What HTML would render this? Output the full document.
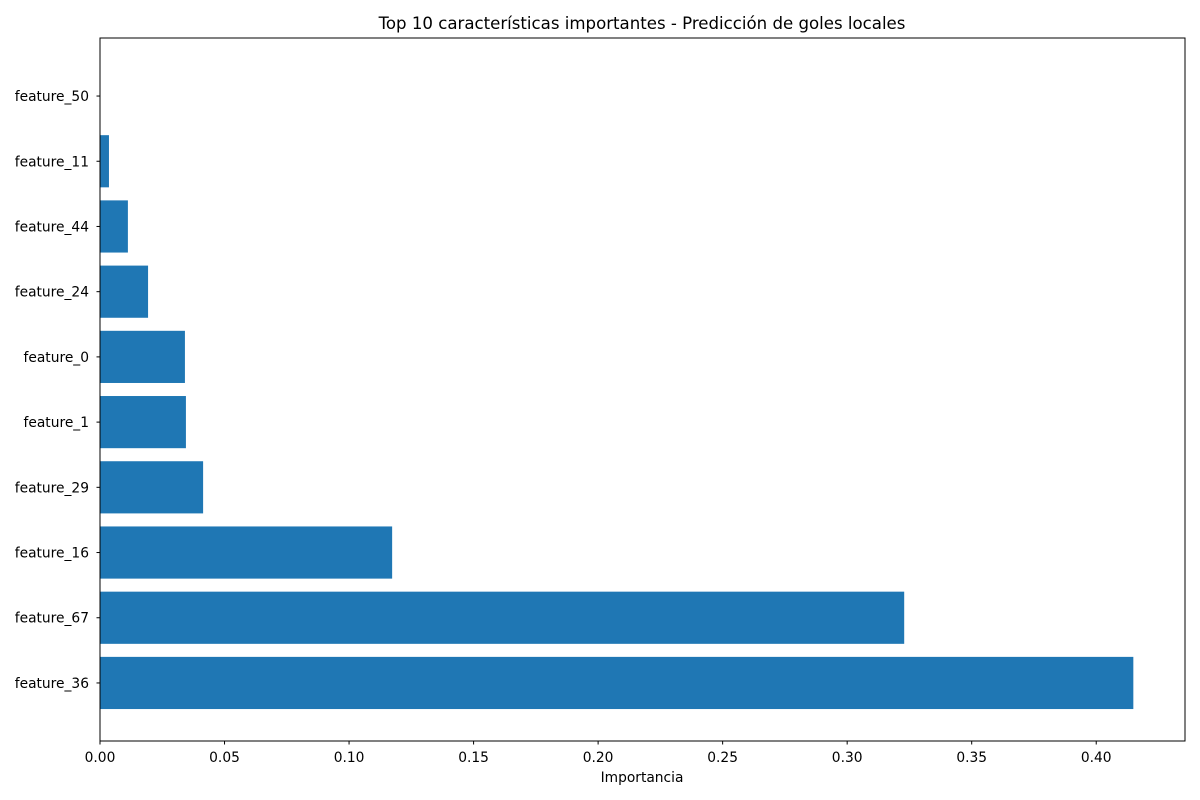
<!DOCTYPE html>
<html><head><meta charset="utf-8"><style>
html,body{margin:0;padding:0;background:#fff;}
svg{display:block;font-family:"DejaVu Sans","Liberation Sans",sans-serif;}
</style></head><body>
<svg id="chart" width="1200" height="800">
<rect width="1200" height="800" fill="#fff"/>
<text x="642" y="29" font-size="16.6" text-anchor="middle">Top 10 características importantes - Predicción de goles locales</text>
<g id="bars"></g>
<g id="xticks"></g>
<g id="yticks"></g>
<rect x="100" y="38" width="1085" height="703" fill="none" stroke="#000" stroke-width="1"/>
<text x="642" y="782" font-size="13.8" text-anchor="middle">Importancia</text>
</svg>
<script>
const categories = ["feature_36","feature_67","feature_16","feature_29","feature_1","feature_0","feature_24","feature_44","feature_11","feature_50"];
const values = [0.4149,0.3229,0.1173,0.0414,0.0345,0.0341,0.0193,0.0112,0.0036,0.0001];
const xTickValues = [0,0.05,0.10,0.15,0.20,0.25,0.30,0.35,0.40];
const xTickLabels = ["0.00","0.05","0.10","0.15","0.20","0.25","0.30","0.35","0.40"];

const L=100,R=1185,T=38,B=741;
const xMax=Math.max(...values)*1.05;
const x=v=>L+v/xMax*(R-L);
const n=categories.length;
const span=(n-0.2), lo=-0.4-0.05*span, hi=n-1+0.4+0.05*span;
const y=i=>B-(i-lo)/(hi-lo)*(B-T);
const unit=(B-T)/(hi-lo);
const NS="http://www.w3.org/2000/svg";
function mk(tag,attrs,parent){const e=document.createElementNS(NS,tag);for(const k in attrs)e.setAttribute(k,attrs[k]);parent.appendChild(e);return e;}
const gb=document.getElementById('bars'),gx=document.getElementById('xticks'),gy=document.getElementById('yticks');
values.forEach((v,i)=>{
  const r=mk('rect',{x:L,y:y(i)-0.4*unit,width:x(v)-L,height:0.8*unit,fill:'#1f77b4'},gb);
  
  
  const t=mk('line',{x1:L-3.5,x2:L,y1:y(i),y2:y(i),stroke:'#000'},gy);
  
  
  const lb=mk('text',{x:L-11,y:y(i)+5,'font-size':13.8,'text-anchor':'end'},gy);
  lb.textContent=categories[i];
  
  
});
xTickValues.forEach((v,i)=>{
  const t=mk('line',{x1:x(v),x2:x(v),y1:B,y2:B+3.5,stroke:'#000'},gx);
  
  
  const lb=mk('text',{x:x(v),y:B+21,'font-size':13.8,'text-anchor':'middle'},gx);
  lb.textContent=xTickLabels[i];
  
  
});
</script>
</body></html>
